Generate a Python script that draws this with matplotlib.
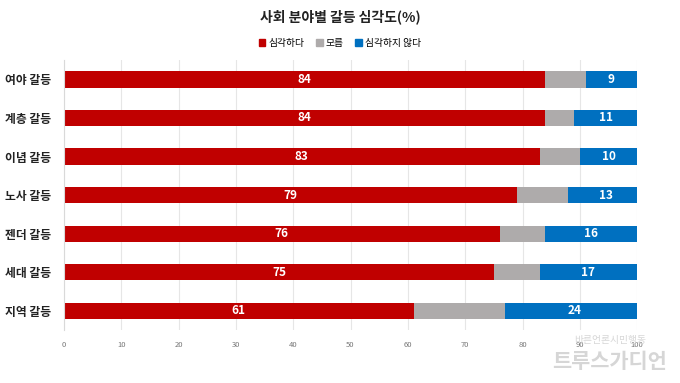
import numpy as np
import matplotlib.pyplot as plt
from matplotlib.patches import Patch

plt.rcParams['font.family'] = ['Noto Sans CJK KR', 'DejaVu Sans']

categories = ['여야 갈등', '계층 갈등', '이념 갈등', '노사 갈등', '젠더 갈등', '세대 갈등', '지역 갈등']
serious = [84, 84, 83, 79, 76, 75, 61]
unknown = [7, 5, 7, 9, 8, 8, 16]
not_serious = [9, 11, 10, 13, 16, 17, 24]
series_names = ['심각하다', '모름', '심각하지 않다']
colors = ['#C00000', '#AEABAB', '#0070C0']

fig = plt.figure(figsize=(6.8, 3.83), dpi=100)
ax = fig.add_axes([0.094, 0.138, 0.843, 0.705])

y = np.arange(len(categories))
h = 0.42
left = np.zeros(len(categories))
for vals, col, show in zip([serious, unknown, not_serious], colors, [True, False, True]):
    vals = np.array(vals)
    ax.barh(y, vals, left=left, height=h, color=col, zorder=2)
    if show:
        for yi, l, v in zip(y, left, vals):
            ax.text(l + v / 2, yi, str(v), ha='center', va='center',
                    color='white', fontsize=8.5, fontweight='bold', zorder=3)
    left = left + vals

ax.set_ylim(len(categories) - 0.5, -0.5)
ax.set_xlim(0, 100)
ax.set_xticks(np.arange(0, 101, 10))
ax.set_yticks(y)
ax.set_yticklabels(categories, fontsize=8.5, fontweight='bold', color='#222222')
ax.tick_params(axis='x', length=0, labelsize=5.5, labelcolor='#777777', pad=8)
ax.tick_params(axis='y', length=0, pad=9)
ax.grid(axis='x', color='#E6E6E6', linewidth=0.8, zorder=0)
for s in ['top', 'right', 'bottom']:
    ax.spines[s].set_visible(False)
ax.spines['left'].set_color('#D9D9D9')

fig.text(0.5, 0.955, '사회 분야별 갈등 심각도(%)', ha='center', va='center',
         fontsize=10, fontweight='bold', color='#222222')
handles = [Patch(color=c, label=n) for c, n in zip(colors, series_names)]
fig.legend(handles=handles, loc='center', bbox_to_anchor=(0.5, 0.888), ncol=3,
           frameon=False, fontsize=7, handlelength=0.7, handleheight=0.7,
           handletextpad=0.3, columnspacing=1.2)

# watermark
fig.text(0.897, 0.112, '바른언론시민행동', fontsize=7, color='#D6D6D6', ha='center', va='center')
fig.text(0.897, 0.057, '트루스가디언', fontsize=15, fontweight='bold', color='#D6D6D6',
         ha='center', va='center')

fig.savefig('out.png', dpi=100)
